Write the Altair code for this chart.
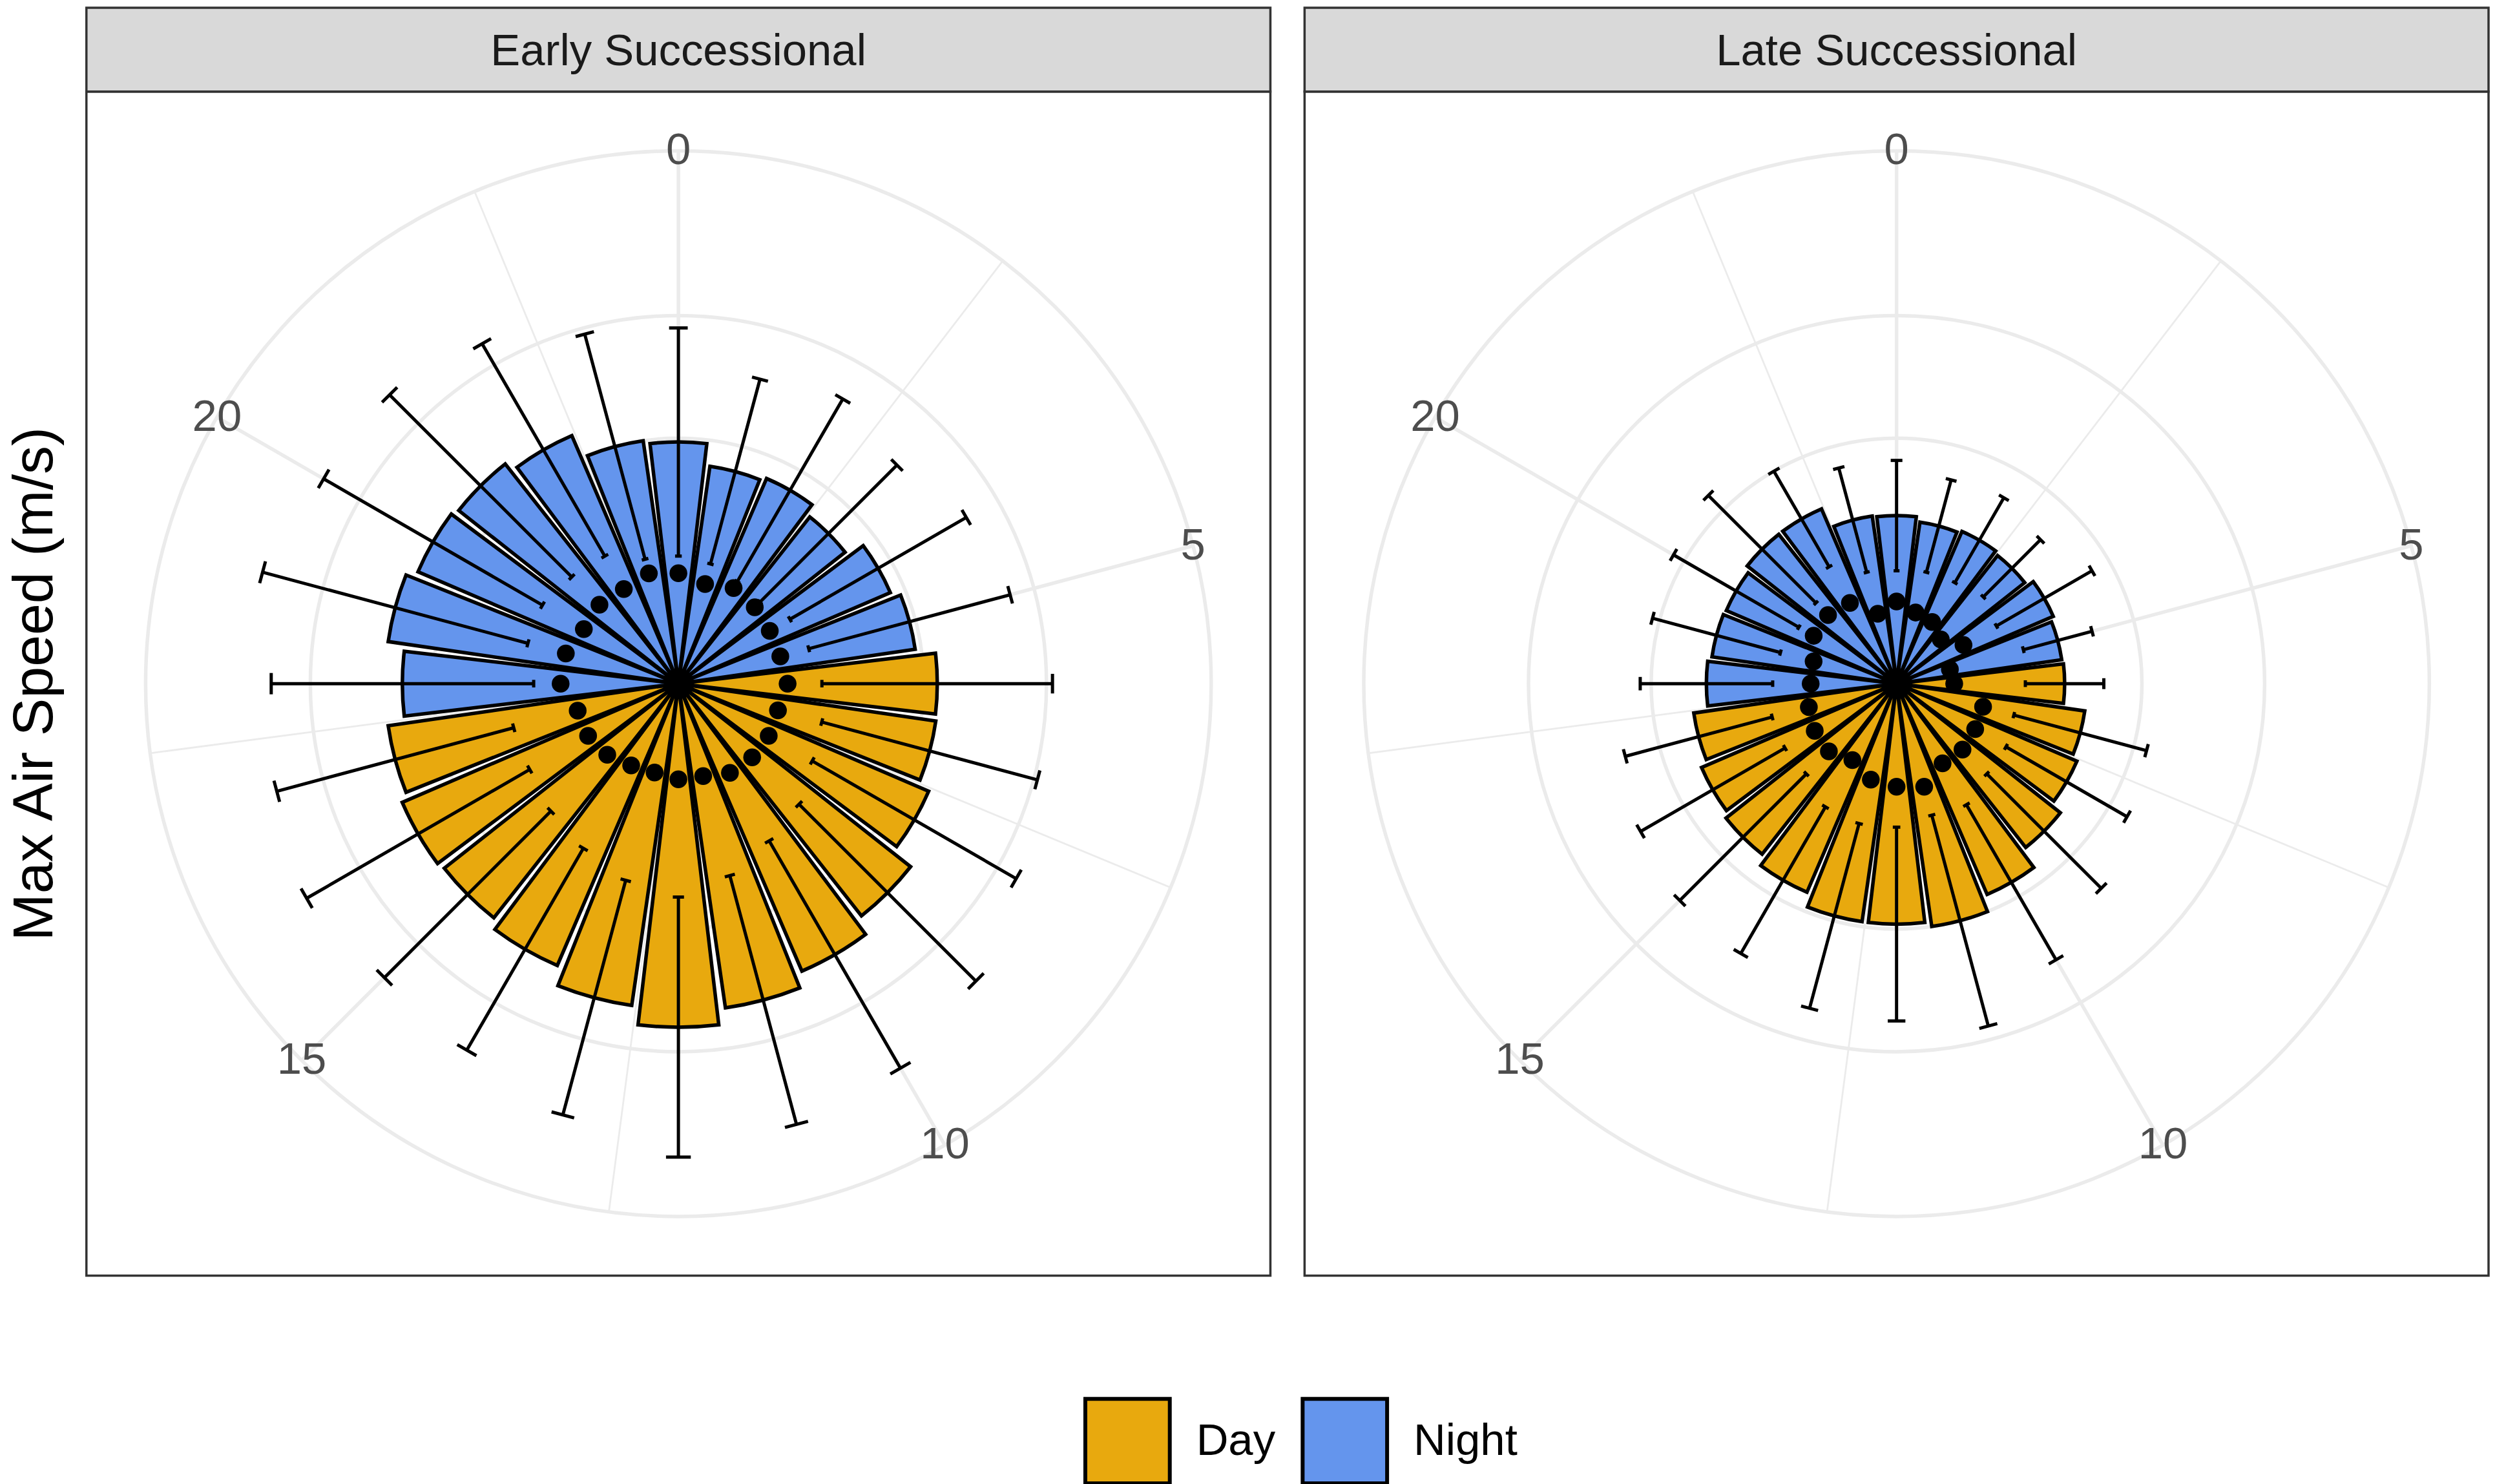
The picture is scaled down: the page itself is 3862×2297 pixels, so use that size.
import math
import altair as alt
import pandas as pd

FONT = "Liberation Sans"

# ---------------- data ----------------
SITES = ["Early Successional", "Late Successional"]
HOURS = list(range(24))
PERIOD = ["Night"] * 6 + ["Day"] * 12 + ["Night"] * 6

EARLY_MEAN = [1.97, 1.79, 1.82, 1.73, 1.88, 1.95, 2.11, 2.12, 2.22, 2.41, 2.55, 2.67,
              2.80, 2.65, 2.50, 2.43, 2.45, 2.39, 2.25, 2.39, 2.31, 2.28, 2.20, 2.00]
EARLY_SD = [0.93, 0.78, 0.86, 0.79, 0.83, 0.85, 0.94, 0.91, 0.96, 1.02, 1.07, 1.05,
            1.06, 0.99, 0.95, 0.96, 1.05, 1.00, 1.07, 1.12, 1.03, 1.05, 1.00, 0.95]
EARLY_POINT = [0.90, 0.84, 0.90, 0.88, 0.86, 0.86, 0.89, 0.84, 0.85, 0.85, 0.84, 0.78,
               0.78, 0.75, 0.77, 0.82, 0.85, 0.85, 0.96, 0.95, 0.89, 0.91, 0.89, 0.93]

LATE_MEAN = [1.37, 1.33, 1.35, 1.33, 1.39, 1.36, 1.37, 1.55, 1.60, 1.70, 1.87, 2.00,
             1.96, 1.96, 1.85, 1.77, 1.73, 1.67, 1.55, 1.52, 1.51, 1.55, 1.55, 1.38]
LATE_SD = [0.45, 0.39, 0.40, 0.33, 0.45, 0.29, 0.32, 0.56, 0.57, 0.66, 0.73, 0.89,
           0.79, 0.78, 0.69, 0.73, 0.68, 0.62, 0.54, 0.54, 0.59, 0.62, 0.45, 0.44]
LATE_POINT = [0.67, 0.60, 0.58, 0.51, 0.63, 0.45, 0.47, 0.73, 0.74, 0.76, 0.75, 0.87,
              0.84, 0.81, 0.72, 0.78, 0.77, 0.74, 0.70, 0.70, 0.78, 0.79, 0.76, 0.59]

THETA_MAJOR = [0, 5, 10, 15, 20]
THETA_MINOR = [2.5, 7.5, 12.5, 17.5, 22.5]
R_BREAKS = [1, 2, 3]

PERIODS = ["Day", "Night"]
COLORS = ["#E8A90E", "#6495ED"]

MEANS = [EARLY_MEAN, LATE_MEAN]
SDS = [EARLY_SD, LATE_SD]
POINTS = [EARLY_POINT, LATE_POINT]

# ---------------- geometry (ggplot coord_polar style) ----------------
W = 1836          # panel size (px)
STRIP_H = 130
GAP = 49
YMAX = max(max(m + s for m, s in zip(MEANS[i], SDS[i])) for i in range(2))
R_OUT = YMAX * 0.45 / 0.4   # outer circle
EDGE = YMAX * 0.5 / 0.4     # panel half-extent in data units
BAR_HALF = 0.45
CAP_HALF = 0.1

xs = alt.Scale(domain=[-EDGE, EDGE], nice=False, zero=False)
ys = alt.Scale(domain=[-EDGE, EDGE], nice=False, zero=False)
ths = alt.Scale(domain=[0, 24], range=[0, 2 * math.pi])
rs = alt.Scale(type="linear", domain=[0, EDGE], range=[0, W / 2], nice=False, zero=True)

GRID = "#EBEBEB"

legend = alt.Legend(
    orient="none", legendX=1546, legendY=2154, direction="horizontal", title=None,
    symbolType="square", symbolSize=131 * 131, symbolStrokeColor="black",
    symbolStrokeWidth=6, symbolOpacity=1, labelFontSize=69, labelFont=FONT,
    labelColor="black", labelOffset=38, columnPadding=30, padding=0, labelLimit=1000,
)


def panel(i, show_title):
    df = pd.DataFrame({"hour": HOURS, "period": PERIOD, "mean": MEANS[i],
                       "sd": SDS[i], "pt": POINTS[i]})
    if show_title:
        yax = alt.Axis(title="Max Air Speed (m/s)", labels=False, ticks=False,
                       domain=False, grid=False, titleFontSize=88, titleFont=FONT,
                       titleFontWeight="normal", titleColor="black", titlePadding=35)
    else:
        yax = None

    def X(f):
        return alt.X(f, type="quantitative", scale=xs, axis=None)

    def Y(f):
        return alt.Y(f, type="quantitative", scale=ys, axis=yax)

    base = alt.Chart(df).transform_calculate(
        a="PI*datum.hour/12",
        lo="datum.mean-datum.sd",
        hi="datum.mean+datum.sd",
    )

    circ = alt.Chart(pd.DataFrame({"r": R_BREAKS + [R_OUT]})).transform_calculate(
        t0="0", t1="24"
    ).mark_arc(fill="transparent", stroke=GRID, strokeWidth=5.5).encode(
        theta=alt.Theta("t0:Q", scale=ths), theta2="t1:Q",
        radius=alt.Radius("r:Q", scale=rs), radius2=alt.value(0),
    )

    def spokes(vals, sw):
        return alt.Chart(pd.DataFrame({"h": vals})).transform_calculate(
            a="PI*datum.h/12", z="0",
            xo=f"{R_OUT}*sin(datum.a)", yo=f"{R_OUT}*cos(datum.a)",
        ).mark_rule(color=GRID, strokeWidth=sw).encode(
            x=X("z"), y=Y("z"), x2="xo:Q", y2="yo:Q"
        )

    bars = base.transform_calculate(
        t0=f"datum.hour-{BAR_HALF}", t1=f"datum.hour+{BAR_HALF}"
    ).mark_arc(stroke="black", strokeWidth=5.5).encode(
        theta=alt.Theta("t0:Q", scale=ths), theta2="t1:Q",
        radius=alt.Radius("mean:Q", scale=rs), radius2=alt.value(0),
        fill=alt.Fill("period:N", scale=alt.Scale(domain=PERIODS, range=COLORS),
                      legend=legend),
    )

    err = base.transform_calculate(
        xl="datum.lo*sin(datum.a)", yl="datum.lo*cos(datum.a)",
        xh="datum.hi*sin(datum.a)", yh="datum.hi*cos(datum.a)",
    ).mark_rule(color="black", strokeWidth=5).encode(
        x=X("xl"), y=Y("yl"), x2="xh:Q", y2="yh:Q"
    )

    def caps(field):
        d = f"PI*{CAP_HALF}/12"
        return base.transform_calculate(
            c1x=f"datum.{field}*sin(datum.a-{d})", c1y=f"datum.{field}*cos(datum.a-{d})",
            c2x=f"datum.{field}*sin(datum.a+{d})", c2y=f"datum.{field}*cos(datum.a+{d})",
        ).mark_rule(color="black", strokeWidth=5).encode(
            x=X("c1x"), y=Y("c1y"), x2="c2x:Q", y2="c2y:Q"
        )

    dots = base.transform_calculate(
        xp="datum.pt*sin(datum.a)", yp="datum.pt*cos(datum.a)"
    ).mark_circle(size=760, color="black", opacity=1).encode(x=X("xp"), y=Y("yp"))

    labels = alt.Chart(pd.DataFrame({"h": THETA_MAJOR,
                                     "lab": [str(v) for v in THETA_MAJOR]})).transform_calculate(
        a="PI*datum.h/12",
        xt=f"{R_OUT}*sin(datum.a)", yt=f"{R_OUT}*cos(datum.a)",
    ).mark_text(fontSize=69, font=FONT, color="#4D4D4D", align="center",
                baseline="middle").encode(x=X("xt"), y=Y("yt"), text="lab:N")

    return alt.layer(
        circ, spokes(THETA_MAJOR, 5.5), spokes(THETA_MINOR, 2.75),
        bars, err, caps("hi"), caps("lo"), dots, labels
    ).properties(width=W, height=W)


def strip(i):
    return alt.Chart(pd.DataFrame({"site": [SITES[i]]})).mark_text(
        fontSize=69, font=FONT, color="#1A1A1A", align="center", baseline="middle"
    ).encode(
        text="site:N", x=alt.value(W / 2), y=alt.value(STRIP_H / 2 + 3)
    ).properties(
        width=W, height=STRIP_H,
        view=alt.ViewBackground(fill="#D9D9D9", stroke="#333333", strokeWidth=3.5),
    )


chart = alt.hconcat(
    alt.vconcat(strip(0), panel(0, True), spacing=0, bounds="flush"),
    alt.vconcat(strip(1), panel(1, False), spacing=0, bounds="flush"),
    spacing=GAP,
).properties(
    padding={"left": 1, "top": 0, "right": 0, "bottom": 0}, background="white"
).configure(font=FONT).configure_view(stroke="#333333", strokeWidth=3.5)

chart.save("out.html", embed_options={"renderer": "svg", "actions": False})
